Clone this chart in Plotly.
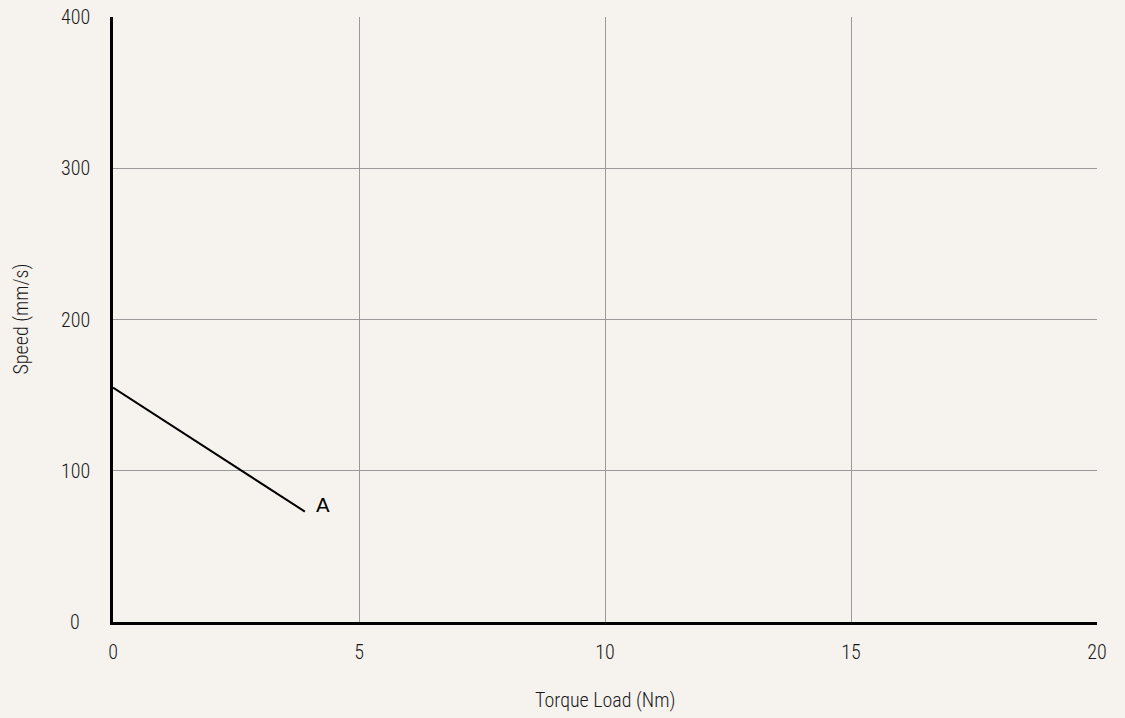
import plotly.graph_objects as go

torque = [0, 3.9]
speed = [155, 73]
label_text = "A"
label_pos = (4.27, 77.5)
x_ticks = [0, 5, 10, 15, 20]
y_ticks = [0, 100, 200, 300, 400]
x_title = "Torque Load (Nm)"
y_title = "Speed (mm/s)"

bg = "#f6f3ef"
txt_font = dict(family="Roboto Condensed, DejaVu Sans Condensed, Roboto, sans-serif",
                size=20, color="#1a1a1a", weight=300)

fig = go.Figure()
fig.add_trace(go.Scatter(x=torque, y=speed, mode="lines",
                         line=dict(color="black", width=2), showlegend=False, hoverinfo="skip"))
fig.add_annotation(x=label_pos[0], y=label_pos[1], text=label_text, showarrow=False,
                   font=dict(family="DejaVu Sans, sans-serif", size=20, color="black"))

# y tick labels (centered, as in the reference)
for v in y_ticks:
    fig.add_annotation(x=0, xref="paper", y=v, yref="y", text=str(v), showarrow=False,
                       xanchor="center", yanchor="middle", xshift=-38, font=txt_font)

# axis titles
fig.add_annotation(x=0.5, xref="paper", y=0, yref="paper", text=x_title, showarrow=False,
                   xanchor="center", yanchor="middle", yshift=-78, font=txt_font)
fig.add_annotation(x=0, xref="paper", y=0.5, yref="paper", text=y_title, showarrow=False,
                   textangle=-90, xanchor="center", yanchor="middle", xshift=-93, font=txt_font)

fig.update_layout(
    width=1125, height=718,
    margin=dict(l=113, r=28, t=17, b=96),
    paper_bgcolor=bg, plot_bgcolor=bg,
    xaxis=dict(range=[0, 20], tickvals=x_ticks, ticktext=[str(v) for v in x_ticks],
               showgrid=True, gridcolor="#999999", gridwidth=1, zeroline=False,
               showline=True, linecolor="black", linewidth=3, mirror=False,
               ticks="", ticklabelstandoff=10, tickfont=txt_font, automargin=False),
    yaxis=dict(range=[0, 400], tickvals=y_ticks, showticklabels=False,
               showgrid=True, gridcolor="#999999", gridwidth=1, zeroline=False,
               showline=True, linecolor="black", linewidth=3, mirror=False,
               ticks="", automargin=False),
)
fig.write_html("out.html", config={"displayModeBar": False},
               post_script="document.body.style.margin='0';document.body.style.background='%s';" % bg)
